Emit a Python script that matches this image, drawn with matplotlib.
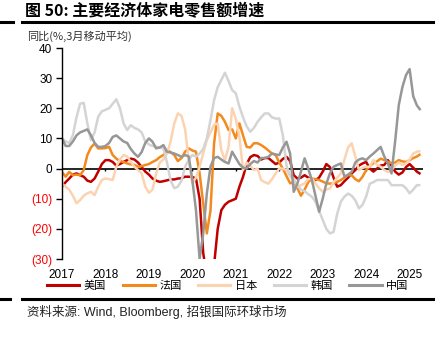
import numpy as np
import matplotlib
matplotlib.use("Agg")
import matplotlib.pyplot as plt
from matplotlib.lines import Line2D

plt.rcParams["font.family"] = ["Liberation Sans", "Noto Sans CJK SC", "DejaVu Sans"]

# monthly, Jan 2017 .. Apr 2025 (3m moving average, yoy %)
us = [-6, -4.5, -3.3, -2, -1.6, -2.2, -2.7, -4, -4.4, -3.3, -1, 1.5,
      2.8, 2.8, 2.2, 1, 1.5, 2.2, 2.8, 3.3, 3, 2, 0.5, -1,
      -2, -3.3, -4, -4.4, -4.2, -3.9, -3.6, -3.6, -3.3, -3.2, -2.7, -2.7,
      -2.8, -3.3, -10, -28, -36, -38, -32, -20, -13.8, -12, -11, -10.5,
      -10, -6, -2.7, 1.5, 3.8, 4.5, 4.2, 3, 3.5, 3.5, 2.5, 1.5,
      2, 3.2, 3.9, 2.5, -2.2, -3.3, -3, -2.2, -3, -3.5, -3.8, -3,
      -1, 1.5, 0.5, -3, -6, -5.5, -4.2, -3, -1.6, -0.5, 1, 1.7,
      2.2, 0, -1, 0, 1, 1.2, 2.8, 1, -1, -2, -1.3, 0.5,
      1.5, 0.3, -1, -1.8]
france = [-1.1, -2.7, -1.1, -2.2, -2, -2.2, -0.5, 4.5, 7, 8.3, 6.7, 6.7,
          6.8, 7.2, 4.5, 3.3, 2.5, 2.2, 1.7, 1.4, 1.2, 0.6, 0.8, 1.2,
          1.5, 2.2, 2.8, 3.8, 4.5, 6.1, 5.5, 4.5, 2.5, 3.5, 5.6, 6.7,
          6, 5.6, -1.6, -11.5, -21.5, -14, 8.4, 18.3, 17.5, 15.5, 12.8, 13,
          10, 15, 11, 7.2, 7, 8.4, 8.4, 7.8, 7, 6, 5, 4.5,
          2, 0, -2.5, -4.9, -4.4, -6.5, -9, -7, -4.5, -3.3, -3.5, -3.8,
          -4.3, -4.9, -5, -4.9, -4.4, -3.8, -3, -2.2, -2.2, -3.5, -4.2, -2.7,
          -0.5, 0.8, 1.8, 2.4, 3.3, 2.8, 2.2, 1.8, 2, 2.8, 2.4, 2.2,
          2.8, 3.5, 4, 4.8]
japan = [-5, -6, -7, -9, -11.5, -10.5, -9, -8.2, -7.7, -8.8, -6, -3.8,
         -3.3, -3.5, -3.8, 0.6, 3, 4.5, 4, 2.2, 0.6, -0.5, -1.6, -6,
         -8, -7, -1.6, 2, 3, 5, 9, 15, 18.3, 17.5, 13, 2.8,
         -4.9, -3, 0.6, 5, 9.5, 12, 14.5, 15, 6.1, 2.8, 7.2, 20,
         16.5, 10.5, -0.5, 2, 1, -0.5, 0, -3.8, -4.5, -5, -3.5, -1.6,
         0, 0, -0.5, -2.5, -3.3, -6, -5.5, -4.9, -3.5, -3.3, -4.9, -6.5,
         -7.7, -7, -6.6, -4.5, -3, -1.6, 3, 7, 8.4, 4, -0.5, 0.2,
         0.6, 0.6, 2.8, 1.2, 0.6, -0.5, -1.1, -0.5, 1, 2, 1.2, 1.7,
         3, 5, 5.6, 5.8]
korea = [10, 9, 8.5, 11, 17, 21.5, 21.8, 15, 9.5, 12, 17.2, 19,
         19.5, 20, 21.5, 23, 20, 15, 12.8, 14.4, 13.5, 13, 12, 9,
         8, 7.5, 7.2, 7, 6.7, 2, -4, -6.5, -6, -4, 0.6, 3,
         4.5, 4, 5, 6.5, 10, 16, 22.7, 27, 29.4, 31.8, 29, 26,
         25, 20.5, 17, 14, 12.2, 13.5, 15.5, 17, 18.3, 18.3, 17, 16.6,
         16.6, 11, 1, -2.5, -4, -5.5, -7, -7.5, -8.5, -9.3, -11, -14,
         -17, -20, -21.5, -21, -15, -11, -9.3, -8.3, -9, -10.5, -13.2, -12,
         -9.3, -5, -4.5, -3.8, -3.8, -3.8, -3.8, -5.5, -5.5, -5.5, -5.5, -6.5,
         -8.2, -7, -5.5, -5.5]
china = [10, 7.5, 7.5, 9, 11, 12, 12.5, 13, 11, 8.5, 7.2, 7.2,
         7.5, 8.5, 10.5, 11, 10, 9, 8.5, 6.5, 5, 3.9, 5.5, 8.5,
         10, 8.9, 6.7, 7, 7.8, 5.6, 5.3, 5, 4.5, 3.9, 4.5, 4,
         -3.8, -13.8, -30, -21.5, -8.2, 0.6, 3.5, 3.9, 3, 2.2, 1.7, 5.6,
         3.5, 1.5, 0.3, 0, 1.5, 2.5, 2, 3.5, 3.5, 3.9, 5, 4.7,
         4.5, 7, 8.9, 5, -7.7, -5, -1, 3.4, 0, -3.8, -9, -14.3,
         -10, -5, -1.6, 0.6, 1.2, 1.7, -2.7, -2, -1.1, 2, 3, 3.4,
         2.8, 4, 5, 6.1, 7.2, 4, 1.7, -1.6, 9, 21, 27, 31,
         33, 24, 21, 19.4]

names = ["美国", "法国", "日本", "韩国", "中国"]
colors = ["#c00000", "#f28a1e", "#fcd3b0", "#d4d4d4", "#979797"]
years = list(range(2017, 2026))
yticks = [40, 30, 20, 10, 0, -10, -20, -30]

x = 2017 + np.arange(len(us)) / 12.0

fig = plt.figure(figsize=(4.48, 3.4), dpi=100)
ax = fig.add_axes([0.1384, 0.2382, 0.805, 0.6206])

for vals, c in zip([us, france, japan, korea, china], colors):
    ax.plot(x, vals, color=c, linewidth=1.8, solid_capstyle="butt")

ax.axhline(0, color="black", linewidth=1.2, zorder=1)
# small year ticks hanging under the zero line
ax.vlines(years[1:-1], -0.9, 0, color="black", linewidth=1.0, zorder=1)

ax.set_xlim(2017, 2025.3)
ax.set_ylim(-30, 40)
ax.set_yticks(yticks)
ax.set_yticklabels([str(v) if v >= 0 else f"({-v})" for v in yticks])
for lab, v in zip(ax.get_yticklabels(), yticks):
    lab.set_color("black" if v >= 0 else "#ff0000")
ax.set_xticks(years)
ax.set_xticklabels([str(y) for y in years])
ax.tick_params(axis="y", labelsize=8.5, length=4, width=1.0, pad=3)
ax.tick_params(axis="x", labelsize=8.5, length=0, pad=7)
for s in ["top", "right", "bottom"]:
    ax.spines[s].set_visible(False)
ax.spines["left"].set_linewidth(1.0)

handles = [Line2D([], [], color=c, linewidth=2.2) for c in colors]
fig.legend(handles, names, loc="center", bbox_to_anchor=(0.508, 0.159),
           ncol=5, frameon=False, handlelength=2.9, handletextpad=0.4,
           columnspacing=1.5, prop={"family": "Noto Sans CJK SC", "size": 8})

fig.text(0.056, 0.966, "图 50: 主要经济体家电零售额增速", fontsize=11.5,
         fontweight="bold", family=["Noto Sans CJK SC"], va="center")
fig.text(0.06, 0.893, "同比(%,3月移动平均)", fontsize=8, color="#333333",
         family=["Noto Sans CJK SC"], va="center")
fig.text(0.06, 0.082, "资料来源: Wind, Bloomberg, 招银国际环球市场", fontsize=9,
         color="#222222", family=["Liberation Sans", "Noto Sans CJK SC"], va="center")

# rules under title and above source
fig.add_artist(Line2D([0.049, 0.967], [0.934, 0.934], color="black", linewidth=2.2))
fig.add_artist(Line2D([0.0, 0.03], [0.934, 0.934], color="black", linewidth=2.2))
fig.add_artist(Line2D([0.049, 0.967], [0.121, 0.121], color="black", linewidth=2.2))
fig.add_artist(Line2D([0.0, 0.022], [0.121, 0.121], color="black", linewidth=2.2))

fig.savefig("out.png", dpi=100, facecolor="white")
